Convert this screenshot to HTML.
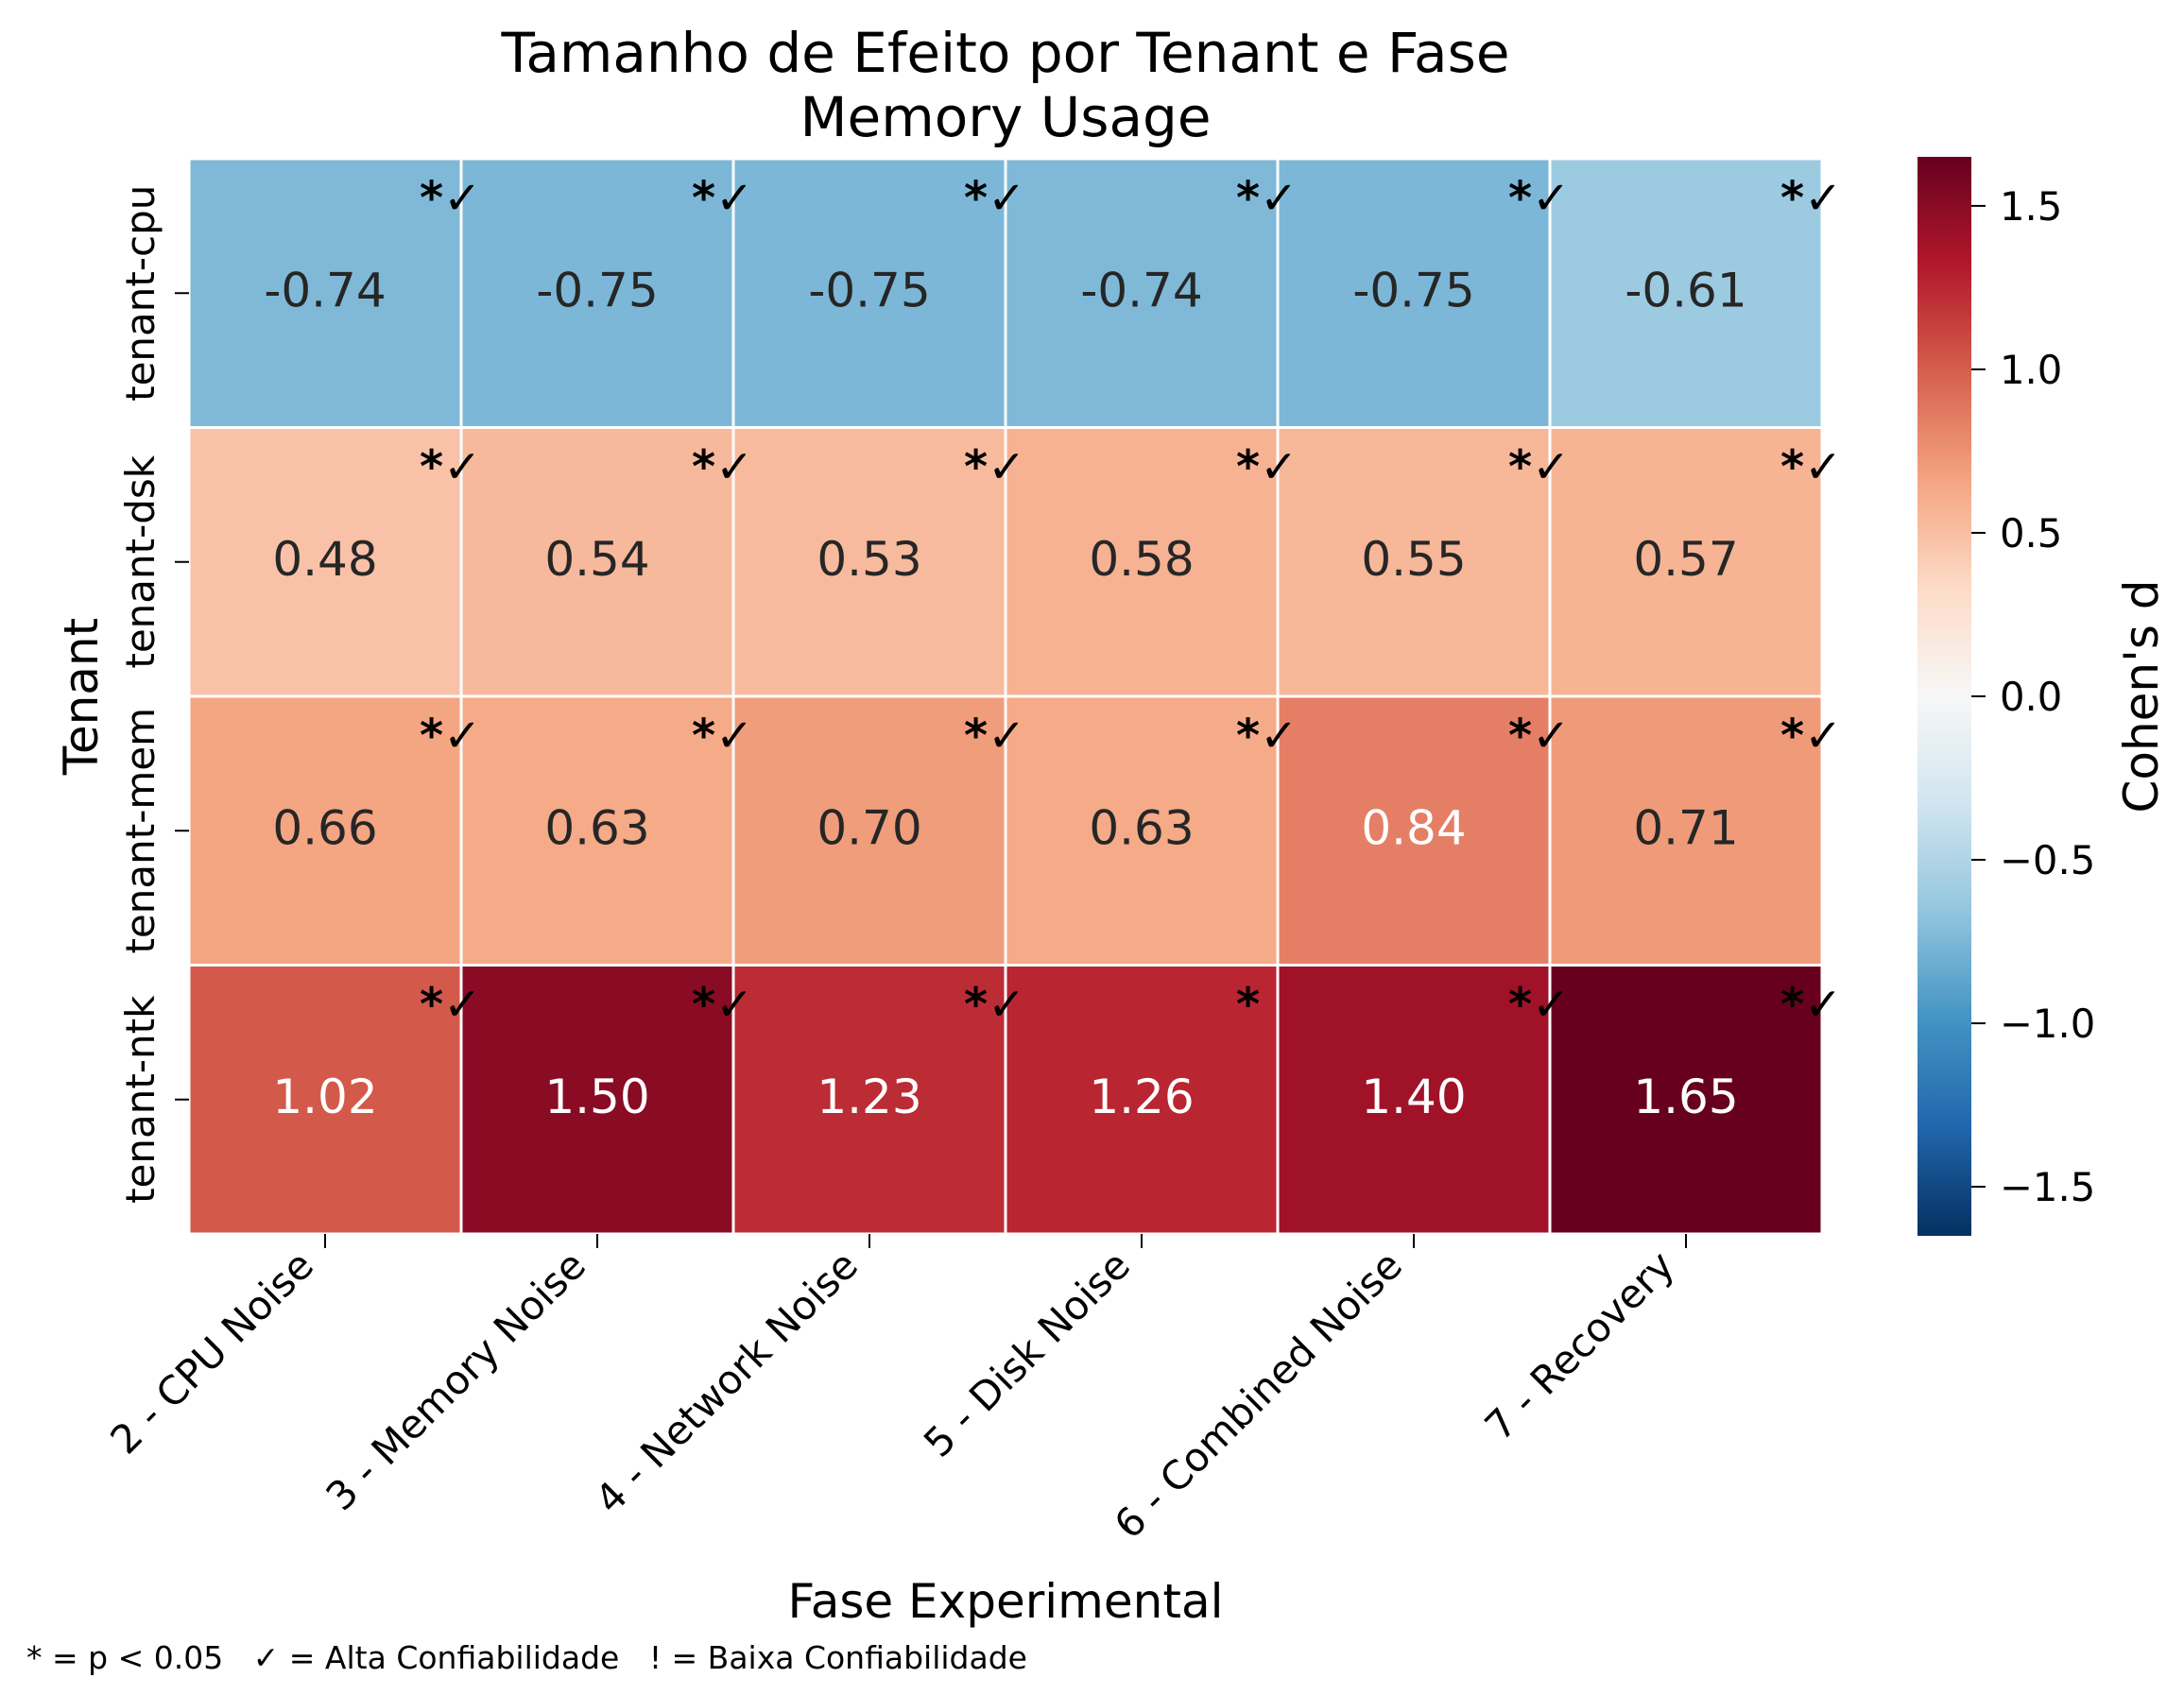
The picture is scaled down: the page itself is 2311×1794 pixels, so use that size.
<!DOCTYPE html>
<html><head><meta charset="utf-8"><style>
html,body{margin:0;padding:0;background:#fff}
svg{display:block;font-family:"DejaVu Sans","Liberation Sans",sans-serif}
</style></head><body>
<svg id="chart" width="2311" height="1794" viewBox="0 0 2311 1794" xmlns="http://www.w3.org/2000/svg">
<defs><linearGradient id="cbgrad" x1="0" y1="1" x2="0" y2="0"></linearGradient></defs>
<text x="1064" y="76" font-size="58" text-anchor="middle" fill="#000">Tamanho de Efeito por Tenant e Fase</text>
<text x="1064" y="144" font-size="58" text-anchor="middle" fill="#000">Memory Usage</text>
<g id="cells"></g><g id="axes"></g><g id="cbar"></g>
<text x="1064" y="1712" font-size="50" text-anchor="middle" fill="#000">Fase Experimental</text>
<text transform="translate(103,737) rotate(-90)" font-size="50" text-anchor="middle" fill="#000">Tenant</text>
<text transform="translate(2283,737) rotate(-90)" font-size="50" text-anchor="middle" fill="#000">Cohen's d</text>
<text x="28" y="1766" font-size="33" fill="#000" xml:space="preserve">* = p &lt; 0.05   ✓ = Alta Confiabilidade   ! = Baixa Confiabilidade</text>
</svg>
<script>
const tenants=["tenant-cpu","tenant-dsk","tenant-mem","tenant-ntk"];
const phases=["2 - CPU Noise","3 - Memory Noise","4 - Network Noise","5 - Disk Noise","6 - Combined Noise","7 - Recovery"];
const rowCpu=[-0.74,-0.75,-0.75,-0.74,-0.75,-0.61];
const rowDsk=[0.48,0.54,0.53,0.58,0.55,0.57];
const rowMem=[0.66,0.63,0.70,0.63,0.84,0.71];
const rowNtk=[1.02,1.50,1.23,1.26,1.40,1.65];
const marksNtk=["*✓","*✓","*✓","*","*✓","*✓"];
const cbTicks=[1.5,1.0,0.5,0.0,-0.5,-1.0,-1.5];
const values=[rowCpu,rowDsk,rowMem,rowNtk];
const marks=[Array(6).fill("*✓"),Array(6).fill("*✓"),Array(6).fill("*✓"),marksNtk];
const vmin=-1.65,vmax=1.65;
const L=200,R=1928,T=168,B=1306;
const cw=(R-L)/phases.length, ch=(B-T)/tenants.length;
const xPos=j=>L+j*cw, yPos=i=>T+i*ch;
const cbL=2029,cbR=2086,cbT=166,cbB=1308;
const cbY=v=>cbB-(v-vmin)/(vmax-vmin)*(cbB-cbT);
const anchors=["#053061","#2166ac","#4393c3","#92c5de","#d1e5f0","#f7f7f7","#fddbc7","#f4a582","#d6604d","#b2182b","#67001f"];
function hex(h){return [1,3,5].map(k=>parseInt(h.substr(k,2),16));}
function cmap(v){let t=Math.max(0,Math.min(1,(v-vmin)/(vmax-vmin)))*(anchors.length-1);let k=Math.min(Math.floor(t),anchors.length-2),f=t-k;const a=hex(anchors[k]),b=hex(anchors[k+1]);return a.map((x,n)=>Math.round(x+(b[n]-x)*f));}
function lum(c){const s=c.map(x=>{x/=255;return x<=0.03928?x/12.92:Math.pow((x+0.055)/1.055,2.4)});return 0.2126*s[0]+0.7152*s[1]+0.0722*s[2];}
const NS="http://www.w3.org/2000/svg";
function mk(tag,attrs,parent){const e=document.createElementNS(NS,tag);for(const k in attrs)e.setAttribute(k,attrs[k]);parent.appendChild(e);return e;}
const cells=document.getElementById('cells'),axes=document.getElementById('axes'),cbar=document.getElementById('cbar');
values.forEach((row,i)=>row.forEach((v,j)=>{
  const c=cmap(v);
  const r=mk('rect',{x:xPos(j),y:yPos(i),width:cw,height:ch,fill:`rgb(${c.join(',')})`,stroke:'#fff','stroke-width':3},cells);
  
  
}));
values.forEach((row,i)=>row.forEach((v,j)=>{
  const c=cmap(v);
  const tc=lum(c)<0.408?'#ffffff':'#262626';
  const t=mk('text',{x:xPos(j)+cw/2,y:yPos(i)+ch/2+14,'font-size':50,'text-anchor':'middle',fill:tc},cells);
  t.textContent=v.toFixed(2);
  
  
  const m=mk('text',{x:xPos(j)+cw-44,y:yPos(i)+58,'font-size':48,'text-anchor':'start',fill:'#000','font-weight':'bold'},cells);
  m.textContent=marks[i][j];
  
  
}));
tenants.forEach((n,i)=>{
  const y=yPos(i)+ch/2;
  const tk=mk('line',{x1:L-15,x2:L,y1:y,y2:y,stroke:'#000','stroke-width':2},axes);
  
  
  const t=mk('text',{transform:`translate(163,${y}) rotate(-90)`,'font-size':42,'text-anchor':'middle',fill:'#000'},axes);
  t.textContent=n;
  
  
});
phases.forEach((n,j)=>{
  const x=xPos(j)+cw/2;
  const tk=mk('line',{x1:x,x2:x,y1:B,y2:B+15,stroke:'#000','stroke-width':2},axes);
  
  
  const t=mk('text',{transform:`translate(${x-10},1342) rotate(-45)`,'font-size':41.7,'text-anchor':'end',fill:'#000'},axes);
  t.textContent=n;
  
  
});
const g=document.getElementById('cbgrad');
anchors.forEach((a,k)=>{mk('stop',{offset:k/(anchors.length-1),'stop-color':a},g);});
const cb=mk('rect',{x:cbL,y:cbT,width:cbR-cbL,height:cbB-cbT,fill:'url(#cbgrad)'},cbar);


cbTicks.forEach(v=>{
  const y=cbY(v);
  const tk=mk('line',{x1:cbR,x2:cbR+15,y1:y,y2:y,stroke:'#000','stroke-width':2},cbar);
  
  
  const t=mk('text',{x:cbR+30,y:y+15,'font-size':41.7,fill:'#000'},cbar);
  t.textContent=(v<0?'\u2212':'')+Math.abs(v).toFixed(1);
  
  
});
</script>
</body></html>
